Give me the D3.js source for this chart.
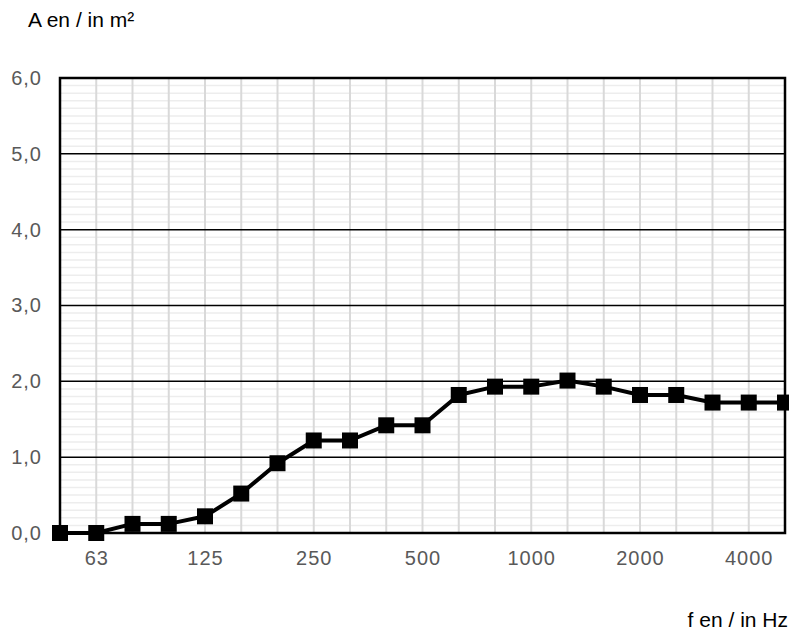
<!DOCTYPE html>
<html><head><meta charset="utf-8">
<script src="https://cdn.jsdelivr.net/npm/d3@7"></script>
<style>body{margin:0;background:#fff;} text{font-family:"Liberation Sans",Arial,sans-serif;}</style>
</head><body>
<svg id="c" width="789" height="632"></svg>
<script>
const frequencies = ["50","63","80","100","125","160","200","250","315","400","500","630","800","1000","1250","1600","2000","2500","3150","4000","5000"];
const aValues = [0.0,0.0,0.12,0.12,0.22,0.52,0.92,1.22,1.22,1.42,1.42,1.82,1.93,1.93,2.01,1.93,1.82,1.82,1.72,1.72,1.72];
const xTickLabels = ["63","125","250","500","1000","2000","4000"];
const yTicks = [0,1,2,3,4,5,6];
const yTitle = "A en / in m²";
const xTitle = "f en / in Hz";

const FONT = '"Liberation Sans",Arial,sans-serif';
const svg = d3.select("#c");
const L = 60, R = 785, T = 78, B = 533;
const x = d3.scalePoint().domain(frequencies).range([L, R]).padding(0);
const y = d3.scaleLinear().domain([0, 6]).range([B, T]);

// minor horizontal grid
svg.append("g").selectAll("line").data(d3.range(1, 60).filter(i => i % 10 !== 0).map(i => i / 10))
  .join("line").attr("x1", L).attr("x2", R).attr("y1", d => y(d)).attr("y2", d => y(d))
  .attr("stroke", "#ededed").attr("stroke-width", 1.5);
// vertical grid
svg.append("g").selectAll("line").data(frequencies.slice(1, -1))
  .join("line").attr("x1", d => x(d)).attr("x2", d => x(d)).attr("y1", T).attr("y2", B)
  .attr("stroke", "#d9d9d9").attr("stroke-width", 2);
// major horizontal grid
svg.append("g").selectAll("line").data(yTicks.slice(1, -1))
  .join("line").attr("x1", L).attr("x2", R).attr("y1", d => y(d)).attr("y2", d => y(d))
  .attr("stroke", "#000").attr("stroke-width", 1.5);
// frame
svg.append("rect").attr("x", L).attr("y", T).attr("width", R - L).attr("height", B - T)
  .attr("fill", "none").attr("stroke", "#000").attr("stroke-width", 2.5);

// y axis labels
const yAxis = d3.axisLeft(y).tickValues(yTicks).tickSize(0).tickPadding(18)
  .tickFormat(d => d3.format(".1f")(d).replace(".", ","));
svg.append("g").attr("transform", `translate(${L},0)`).call(yAxis)
  .call(g => g.select(".domain").remove())
  .selectAll("text").attr("fill", "#595959").style("font-size", "20px").style("letter-spacing", "1px").style("font-family", FONT);

// x axis labels
const xAxis = d3.axisBottom(x).tickValues(xTickLabels).tickSize(0).tickPadding(18);
svg.append("g").attr("transform", `translate(0,${B})`).call(xAxis)
  .call(g => g.select(".domain").remove())
  .selectAll("text").attr("fill", "#595959").style("font-size", "20px").style("letter-spacing", "1px").style("font-family", FONT);

// line
const pts = frequencies.map((f, i) => [x(f), y(aValues[i])]);
svg.append("path").attr("d", d3.line()(pts)).attr("fill", "none").attr("stroke", "#000").attr("stroke-width", 4).attr("stroke-linejoin", "round");
const s = 16;
svg.append("g").selectAll("rect").data(pts).join("rect")
  .attr("x", d => d[0] - s / 2).attr("y", d => d[1] - s / 2).attr("width", s).attr("height", s).attr("fill", "#000");

svg.append("text").attr("x", 28).attr("y", 27).text(yTitle).attr("fill", "#000").style("font-size", "21px").style("font-family", FONT);
svg.append("text").attr("x", 788).attr("y", 627).attr("text-anchor", "end").text(xTitle).attr("fill", "#000").style("font-size", "21px").style("font-family", FONT);
</script>
</body></html>
